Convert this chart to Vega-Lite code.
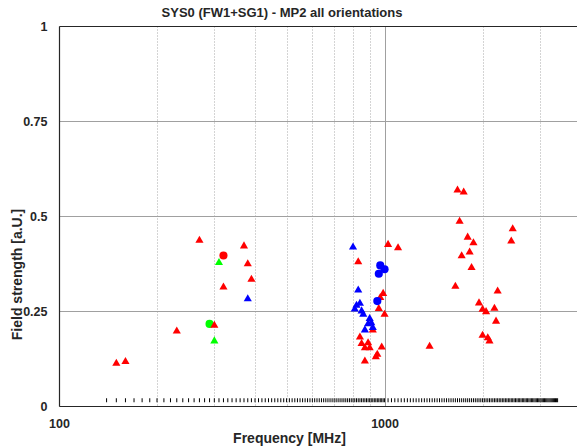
{
  "$schema": "https://vega.github.io/schema/vega-lite/v6.json",
  "width": 518,
  "height": 380,
  "autosize": {"type": "none"},
  "padding": {"left": 59, "top": 26, "right": 0, "bottom": 41},
  "background": "white",
  "config": {"view": {"stroke": null}, "font": "Liberation Sans"},
  "title": {"text": "SYS0 (FW1+SG1) - MP2 all orientations", "fontSize": 13, "fontWeight": "bold", "color": "#262626", "anchor": "middle", "dx": -36, "offset": 0, "font": "Liberation Sans"},
  "datasets": {
    "points": [
      {"f": 310, "v": 0.380, "c": "green", "m": "triangle"},
      {"f": 300, "v": 0.174, "c": "green", "m": "triangle"},
      {"f": 290, "v": 0.216, "c": "green", "m": "circle"},
      {"f": 150, "v": 0.115, "c": "red", "m": "triangle"},
      {"f": 160, "v": 0.120, "c": "red", "m": "triangle"},
      {"f": 230, "v": 0.200, "c": "red", "m": "triangle"},
      {"f": 270, "v": 0.439, "c": "red", "m": "triangle"},
      {"f": 300, "v": 0.215, "c": "red", "m": "triangle"},
      {"f": 320, "v": 0.396, "c": "red", "m": "circle"},
      {"f": 320, "v": 0.316, "c": "red", "m": "triangle"},
      {"f": 370, "v": 0.424, "c": "red", "m": "triangle"},
      {"f": 380, "v": 0.377, "c": "red", "m": "triangle"},
      {"f": 390, "v": 0.336, "c": "red", "m": "triangle"},
      {"f": 1025, "v": 0.428, "c": "red", "m": "triangle"},
      {"f": 1100, "v": 0.419, "c": "red", "m": "triangle"},
      {"f": 830, "v": 0.382, "c": "red", "m": "triangle"},
      {"f": 990, "v": 0.299, "c": "red", "m": "triangle"},
      {"f": 970, "v": 0.288, "c": "red", "m": "triangle"},
      {"f": 960, "v": 0.259, "c": "red", "m": "triangle"},
      {"f": 1000, "v": 0.244, "c": "red", "m": "triangle"},
      {"f": 920, "v": 0.203, "c": "red", "m": "triangle"},
      {"f": 840, "v": 0.184, "c": "red", "m": "triangle"},
      {"f": 850, "v": 0.167, "c": "red", "m": "triangle"},
      {"f": 890, "v": 0.169, "c": "red", "m": "triangle"},
      {"f": 870, "v": 0.156, "c": "red", "m": "triangle"},
      {"f": 900, "v": 0.156, "c": "red", "m": "triangle"},
      {"f": 980, "v": 0.158, "c": "red", "m": "triangle"},
      {"f": 950, "v": 0.139, "c": "red", "m": "triangle"},
      {"f": 940, "v": 0.132, "c": "red", "m": "triangle"},
      {"f": 870, "v": 0.121, "c": "red", "m": "triangle"},
      {"f": 1375, "v": 0.160, "c": "red", "m": "triangle"},
      {"f": 1675, "v": 0.571, "c": "red", "m": "triangle"},
      {"f": 1750, "v": 0.566, "c": "red", "m": "triangle"},
      {"f": 1700, "v": 0.489, "c": "red", "m": "triangle"},
      {"f": 2475, "v": 0.469, "c": "red", "m": "triangle"},
      {"f": 1800, "v": 0.447, "c": "red", "m": "triangle"},
      {"f": 1875, "v": 0.432, "c": "red", "m": "triangle"},
      {"f": 2450, "v": 0.437, "c": "red", "m": "triangle"},
      {"f": 1825, "v": 0.408, "c": "red", "m": "triangle"},
      {"f": 1725, "v": 0.398, "c": "red", "m": "triangle"},
      {"f": 1850, "v": 0.367, "c": "red", "m": "triangle"},
      {"f": 1650, "v": 0.318, "c": "red", "m": "triangle"},
      {"f": 2225, "v": 0.305, "c": "red", "m": "triangle"},
      {"f": 1950, "v": 0.274, "c": "red", "m": "triangle"},
      {"f": 2175, "v": 0.260, "c": "red", "m": "triangle"},
      {"f": 2000, "v": 0.257, "c": "red", "m": "triangle"},
      {"f": 2050, "v": 0.251, "c": "red", "m": "triangle"},
      {"f": 2200, "v": 0.226, "c": "red", "m": "triangle"},
      {"f": 2000, "v": 0.189, "c": "red", "m": "triangle"},
      {"f": 2075, "v": 0.182, "c": "red", "m": "triangle"},
      {"f": 2100, "v": 0.174, "c": "red", "m": "triangle"},
      {"f": 380, "v": 0.285, "c": "blue", "m": "triangle"},
      {"f": 800, "v": 0.421, "c": "blue", "m": "triangle"},
      {"f": 970, "v": 0.370, "c": "blue", "m": "circle"},
      {"f": 1000, "v": 0.360, "c": "blue", "m": "circle"},
      {"f": 960, "v": 0.348, "c": "blue", "m": "circle"},
      {"f": 830, "v": 0.308, "c": "blue", "m": "triangle"},
      {"f": 950, "v": 0.276, "c": "blue", "m": "circle"},
      {"f": 840, "v": 0.273, "c": "blue", "m": "triangle"},
      {"f": 820, "v": 0.268, "c": "blue", "m": "triangle"},
      {"f": 810, "v": 0.258, "c": "blue", "m": "triangle"},
      {"f": 850, "v": 0.253, "c": "blue", "m": "triangle"},
      {"f": 860, "v": 0.244, "c": "blue", "m": "triangle"},
      {"f": 900, "v": 0.233, "c": "blue", "m": "triangle"},
      {"f": 910, "v": 0.222, "c": "blue", "m": "triangle"},
      {"f": 890, "v": 0.219, "c": "blue", "m": "triangle"},
      {"f": 920, "v": 0.209, "c": "blue", "m": "triangle"},
      {"f": 870, "v": 0.203, "c": "blue", "m": "triangle"}
    ],
    "freqs": [
      {"f":140},{"f":150},{"f":160},{"f":170},{"f":180},{"f":190},{"f":200},{"f":210},{"f":220},{"f":230},{"f":240},{"f":250},{"f":260},{"f":270},{"f":280},{"f":290},{"f":300},{"f":310},{"f":320},{"f":330},{"f":340},{"f":350},{"f":360},{"f":370},{"f":380},{"f":390},{"f":400},{"f":410},{"f":420},{"f":430},{"f":440},{"f":450},{"f":460},{"f":470},{"f":480},{"f":490},{"f":500},{"f":510},{"f":520},{"f":530},{"f":540},{"f":550},{"f":560},{"f":570},{"f":580},{"f":590},{"f":600},{"f":610},{"f":620},{"f":630},{"f":640},{"f":650},{"f":660},{"f":670},{"f":680},{"f":690},{"f":700},{"f":710},{"f":720},{"f":730},{"f":740},{"f":750},{"f":760},{"f":770},{"f":780},{"f":790},{"f":800},{"f":810},{"f":820},{"f":830},{"f":840},{"f":850},{"f":860},{"f":870},{"f":880},{"f":890},{"f":900},{"f":910},{"f":920},{"f":930},{"f":940},{"f":950},{"f":960},{"f":970},{"f":980},{"f":990},{"f":1000},
      {"f":1025},{"f":1050},{"f":1075},{"f":1100},{"f":1125},{"f":1150},{"f":1175},{"f":1200},{"f":1225},{"f":1250},{"f":1275},{"f":1300},{"f":1325},{"f":1350},{"f":1375},{"f":1400},{"f":1425},{"f":1450},{"f":1475},{"f":1500},{"f":1525},{"f":1550},{"f":1575},{"f":1600},{"f":1625},{"f":1650},{"f":1675},{"f":1700},{"f":1725},{"f":1750},{"f":1775},{"f":1800},{"f":1825},{"f":1850},{"f":1875},{"f":1900},{"f":1925},{"f":1950},{"f":1975},{"f":2000},{"f":2025},{"f":2050},{"f":2075},{"f":2100},{"f":2125},{"f":2150},{"f":2175},{"f":2200},{"f":2225},{"f":2250},{"f":2275},{"f":2300},{"f":2325},{"f":2350},{"f":2375},{"f":2400},{"f":2425},{"f":2450},{"f":2475},{"f":2500},{"f":2525},{"f":2550},{"f":2575},{"f":2600},{"f":2625},{"f":2650},{"f":2675},{"f":2700},{"f":2725},{"f":2750},{"f":2775},{"f":2800},{"f":2825},{"f":2850},{"f":2875},{"f":2900},{"f":2925},{"f":2950},{"f":2975},{"f":3000},{"f":3025},{"f":3050},{"f":3075},{"f":3100},{"f":3125},{"f":3150},{"f":3175},{"f":3200},{"f":3225},{"f":3250},{"f":3275},{"f":3300},{"f":3325},{"f":3350},{"f":3375},{"f":3400}
    ]
  },
  "layer": [
    {
      "data": {"name": "freqs"},
      "mark": {"type": "tick", "orient": "vertical", "size": 4, "thickness": 1, "color": "#000000", "opacity": 1},
      "encoding": {
        "x": {
          "field": "f", "type": "quantitative",
          "scale": {"type": "log", "domain": [100, 3900], "nice": false},
          "axis": {
            "values": [100, 200, 300, 400, 500, 600, 700, 800, 900, 1000, 2000, 3000],
            "labelExpr": "datum.value == 100 ? '100' : (datum.value == 1000 ? '1000' : '')",
            "grid": true,
            "gridColor": {"condition": {"test": "datum.value == 100 || datum.value == 1000", "value": "#a0a0a0"}, "value": "#a8a8a8"},
            "gridDash": {"condition": {"test": "datum.value == 100 || datum.value == 1000", "value": []}, "value": [1, 2]},
            "gridWidth": 1,
            "ticks": false,
            "domainColor": "#262626",
            "domainWidth": 1.2,
            "labelFont": "Liberation Sans",
            "labelFontSize": 12.5,
            "labelFontWeight": "bold",
            "labelColor": "#262626",
            "labelPadding": 11,
            "labelFlush": false,
            "labelOverlap": false,
            "title": "Frequency [MHz]",
            "titleFont": "Liberation Sans",
            "titleFontSize": 14,
            "titleFontWeight": "bold",
            "titleColor": "#262626",
            "titleX": 230,
            "titleY": 36,
            "titleAlign": "center",
            "titleBaseline": "alphabetic"
          }
        },
        "y": {
          "datum": 0.015, "type": "quantitative",
          "scale": {"domain": [0, 1], "nice": false},
          "axis": {
            "values": [0, 0.25, 0.5, 0.75, 1],
            "labelExpr": "'' + datum.value",
            "grid": true,
            "gridColor": {"condition": {"test": "datum.value == 1", "value": "#262626"}, "value": "#a0a0a0"},
            "gridWidth": 1,
            "ticks": false,
            "domainColor": "#262626",
            "domainWidth": 1.2,
            "labelFont": "Liberation Sans",
            "labelFontSize": 12.5,
            "labelFontWeight": "bold",
            "labelColor": "#262626",
            "labelPadding": 12,
            "labelFlush": false,
            "labelOverlap": false,
            "title": "Field strength [a.U.]",
            "titleFont": "Liberation Sans",
            "titleFontSize": 14,
            "titleFontWeight": "bold",
            "titleColor": "#262626",
            "titleX": -42,
            "titleY": 248,
            "titleAngle": 270,
            "titleAlign": "center",
            "titleBaseline": "middle"
          }
        }
      }
    },
    {
      "data": {"name": "points"},
      "mark": {"type": "point", "filled": true, "size": 66, "opacity": 1, "strokeWidth": 0},
      "encoding": {
        "x": {"field": "f", "type": "quantitative"},
        "y": {"field": "v", "type": "quantitative"},
        "color": {"field": "c", "type": "nominal", "scale": {"domain": ["red", "blue", "green"], "range": ["#ff0000", "#0000ff", "#00ff00"]}, "legend": null},
        "shape": {"field": "m", "type": "nominal", "scale": {"domain": ["triangle", "circle"], "range": ["triangle-up", "circle"]}, "legend": null}
      }
    }
  ]
}
